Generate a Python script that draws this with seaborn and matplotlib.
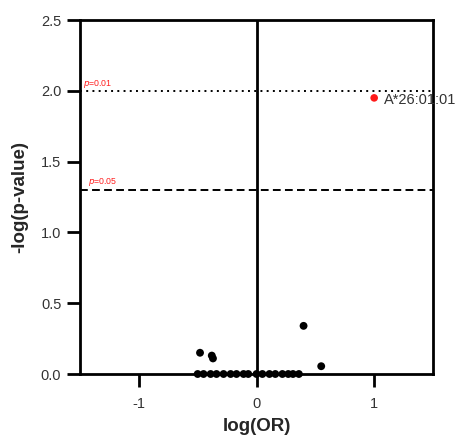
import matplotlib
matplotlib.use("Agg")
import matplotlib.pyplot as plt
import seaborn as sns
import pandas as pd

# Allele-level association results: log odds ratio vs -log10(p)
log_or = [-0.48, -0.38, -0.37, 0.40, 0.55,
          -0.50, -0.45, -0.39, -0.34, -0.28, -0.22, -0.17, -0.11, -0.07,
          0.00, 0.05, 0.11, 0.16, 0.22, 0.27, 0.31, 0.36]
neg_log_p = [0.15, 0.13, 0.11, 0.34, 0.055,
             0, 0, 0, 0, 0, 0, 0, 0, 0,
             0, 0, 0, 0, 0, 0, 0, 0]

hit_name = ["A*26:01:01"]
hit_log_or = [1.0]
hit_neg_log_p = [1.95]

thresholds = [2.0, 1.30103]
threshold_labels = ["0.01", "0.05"]

sns.set_style("ticks")
plt.rcParams["font.family"] = ["Liberation Sans", "DejaVu Sans"]

fig = plt.figure(figsize=(4.58, 4.41), dpi=100)
ax = fig.add_axes([80 / 458, 67 / 441, 353 / 458, 354 / 441])

df = pd.DataFrame({"log_or": log_or, "neg_log_p": neg_log_p})
hits = pd.DataFrame({"log_or": hit_log_or, "neg_log_p": hit_neg_log_p, "name": hit_name})

# significance thresholds
ax.axhline(thresholds[0], color="black", lw=1.4, ls=(0, (1, 2.2)), zorder=1)
ax.axhline(thresholds[1], color="black", lw=1.4, ls=(0, (4, 2.2)), zorder=1)
ax.axvline(0, color="black", lw=2.0, zorder=1)

sns.scatterplot(data=df, x="log_or", y="neg_log_p", ax=ax, color="black",
                s=32, edgecolor="none", zorder=4, clip_on=False, legend=False)
sns.scatterplot(data=hits, x="log_or", y="neg_log_p", ax=ax, color="#ff1a1a",
                s=30, edgecolor="none", zorder=4, clip_on=False, legend=False)

for _, r in hits.iterrows():
    ax.annotate(r["name"], (r["log_or"], r["neg_log_p"]), xytext=(7, -1.5),
                textcoords="offset points", fontsize=10.5, color="#333333",
                va="center", ha="left", annotation_clip=False)

ax.text(-1.478, thresholds[0] + 0.005, "$p$=" + threshold_labels[0], color="#ff2020",
        fontsize=6.3, va="bottom", ha="left")
ax.text(-1.435, thresholds[1] + 0.01, "$p$=" + threshold_labels[1], color="#ff2020",
        fontsize=6.3, va="bottom", ha="left")

ax.set_xlim(-1.5, 1.5)
ax.set_ylim(0, 2.5)
ax.set_xticks([-1, 0, 1])
ax.set_xticklabels(["-1", "0", "1"])
ax.set_yticks([0, 0.5, 1.0, 1.5, 2.0, 2.5])
ax.set_yticklabels(["0.0", "0.5", "1.0", "1.5", "2.0", "2.5"])

for sp in ax.spines.values():
    sp.set_linewidth(2.0)
    sp.set_color("black")
ax.tick_params(axis="both", length=9.5, width=2.0, color="black",
               labelsize=10.5, labelcolor="#333333", pad=4)
ax.tick_params(axis="x", pad=7)

ax.set_xlabel("log(OR)", fontsize=13.5, fontweight="bold", labelpad=5)
ax.set_ylabel("-log(p-value)", fontsize=13.5, fontweight="bold", labelpad=9)

fig.savefig("out.png", dpi=100)
